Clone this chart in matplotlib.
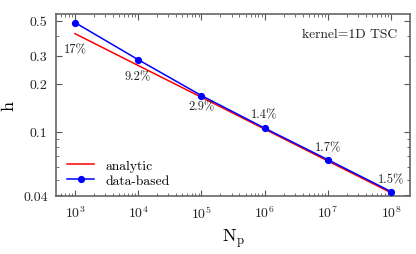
import numpy as np
import matplotlib
matplotlib.use("Agg")
import matplotlib.pyplot as plt
from matplotlib.ticker import LogLocator, FixedLocator, FixedFormatter, NullFormatter

plt.rcParams['font.family'] = 'serif'
plt.rcParams['font.serif'] = ['cmr10', 'DejaVu Serif']
plt.rcParams['mathtext.fontset'] = 'cm'
plt.rcParams['axes.formatter.use_mathtext'] = True

# data
n_particles = [1e3, 1e4, 1e5, 1e6, 1e7, 1e8]
h_analytic = [0.414, 0.261, 0.165, 0.104, 0.0656, 0.0414]
h_data = [0.486, 0.284, 0.169, 0.1055, 0.0668, 0.0421]
err_labels = ["17%", "9.2%", "2.9%", "1.4%", "1.7%", "1.5%"]
# label offsets (points) relative to each data point
label_offsets = [(0, -19), (0, -12), (0, -8), (0, 10), (0, 9), (0, 9)]

y_ticks = [0.04, 0.1, 0.2, 0.3, 0.5]
y_ticklabels = ["0.04", "0.1", "0.2", "0.3", "0.5"]

fig = plt.figure(figsize=(4.16, 2.55), dpi=100)
ax = fig.add_axes([56/416, 1 - 197/255, (410-56)/416, (197-15)/255])

ax.plot(n_particles, h_analytic, color='#ff0000', lw=1.1, label='analytic', zorder=2)
ax.plot(n_particles, h_data, color='#0000ff', lw=1.1, marker='o', ms=4.2,
        label='data-based', zorder=3)

for x, y, s, off in zip(n_particles, h_data, err_labels, label_offsets):
    ax.annotate(s, (x, y), xytext=off, textcoords='offset points',
                ha='center', va='center', fontsize=9, color='#222222')

ax.set_xscale('log')
ax.set_yscale('log')
ax.set_xlim(10**2.7, 10**8.3)
ax.set_ylim(0.0395, 0.55)

ax.xaxis.set_major_locator(FixedLocator(n_particles))
ax.xaxis.set_minor_locator(LogLocator(base=10, subs=np.arange(2, 10), numticks=20))
ax.xaxis.set_minor_formatter(NullFormatter())

ax.yaxis.set_major_locator(FixedLocator(y_ticks))
ax.yaxis.set_major_formatter(FixedFormatter(y_ticklabels))
minor_y = [0.05, 0.06, 0.07, 0.08, 0.09, 0.4]
ax.yaxis.set_minor_locator(FixedLocator(minor_y))
ax.yaxis.set_minor_formatter(NullFormatter())

for sp in ax.spines.values():
    sp.set_color('#666666')
    sp.set_linewidth(1.2)
ax.tick_params(which='both', direction='in', top=True, right=True, color='#555555',
               labelsize=10, labelcolor='#222222')
ax.tick_params(which='major', length=4, width=0.8, pad=6)
ax.tick_params(which='minor', length=2, width=0.6)

ax.set_xlabel(r'$\mathrm{N_p}$', fontsize=13)
ax.set_ylabel('h', fontsize=13, rotation=90)
ax.xaxis.set_label_coords(0.5, -0.17)
ax.yaxis.set_label_coords(-0.113, 0.5)

ax.text(0.965, 0.89, 'kernel=1D TSC', transform=ax.transAxes, ha='right',
        va='center', fontsize=9.8, color='#222222')

leg = ax.legend(loc='lower left', frameon=False, fontsize=9.8, handlelength=2.0,
                borderaxespad=0.4, labelspacing=0.2, bbox_to_anchor=(0.0, -0.01))

fig.savefig('out.png', dpi=100)
